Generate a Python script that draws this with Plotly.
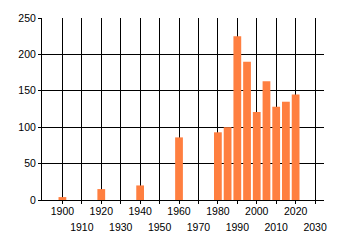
import plotly.graph_objects as go

years = [1900, 1920, 1940, 1960, 1980, 1985, 1990, 1995, 2000, 2005, 2010, 2015, 2020]
counts = [4, 15, 20, 86, 93, 100, 225, 190, 121, 163, 128, 135, 145]
even_ticks = [1900, 1920, 1940, 1960, 1980, 2000, 2020]
odd_ticks = [1910, 1930, 1950, 1970, 1990, 2010, 2030]
all_ticks = sorted(even_ticks + odd_ticks)
y_ticks = [0, 50, 100, 150, 200, 250]

font = dict(family="Liberation Sans, Arial, sans-serif", size=10.5, color="#000000")

fig = go.Figure()
fig.add_trace(go.Bar(x=years, y=counts, width=4, marker=dict(color="#FF7F40", line=dict(width=0))))
fig.add_trace(go.Scatter(x=[], y=[], xaxis="x2", showlegend=False))

fig.update_layout(
    width=340, height=245,
    margin=dict(l=42, r=16, t=15, b=44),
    paper_bgcolor="white", plot_bgcolor="white",
    showlegend=False,
    font=font,
    xaxis=dict(
        range=[1889.5, 2034.6],
        tickmode="array", tickvals=all_ticks,
        ticktext=[str(t) if t in even_ticks else "" for t in all_ticks],
        showgrid=True, gridcolor="#000000", gridwidth=1,
        ticks="outside", ticklen=3, tickcolor="#000000",
        showline=True, linecolor="#000000", linewidth=1,
        zeroline=False, tickfont=font, fixedrange=True,
        ticklabelstandoff=-2,
    ),
    xaxis2=dict(
        overlaying="x", matches="x", side="bottom", anchor="y",
        range=[1889.5, 2034.6],
        tickmode="array", tickvals=odd_ticks, ticktext=[str(t) for t in odd_ticks],
        showgrid=False, ticks="", showline=False, zeroline=False,
        ticklabelstandoff=19, tickfont=font,
    ),
    yaxis=dict(
        range=[0, 250], tickmode="array", tickvals=y_ticks,
        showgrid=True, gridcolor="#000000", gridwidth=1,
        ticks="outside", ticklen=3, tickcolor="#000000",
        showline=True, linecolor="#000000", linewidth=1,
        zeroline=False, tickfont=font, fixedrange=True,
    ),
)

fig.write_html("out.html")
